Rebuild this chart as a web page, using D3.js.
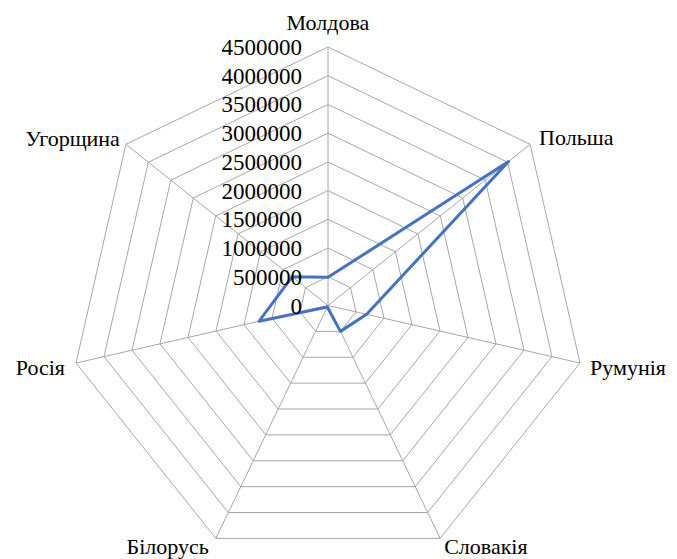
<!DOCTYPE html>
<html><head><meta charset="utf-8">
<script src="https://cdn.jsdelivr.net/npm/d3@7"></script>
<style>body{margin:0;background:#fff}svg{display:block}svg text{font-family:"Liberation Serif","Times New Roman","Tinos","Nimbus Roman","FreeSerif","DejaVu Serif",serif}</style>
</head><body>
<script>
const categories = ["Молдова","Польша","Румунія","Словакія","Білорусь","Росія","Угорщина"];
const values = [490000, 4020000, 690000, 500000, 30000, 1230000, 800000];
const tickValues = [0,500000,1000000,1500000,2000000,2500000,3000000,3500000,4000000,4500000];

const W=677,H=559,cx=328,cy=305.5,R=258.5;
const svg=d3.select("body").append("svg").attr("width",W).attr("height",H);
const r=d3.scaleLinear().domain([0,4500000]).range([0,R]);
const n=categories.length;
const ang=d3.scaleLinear().domain([0,n]).range([0,2*Math.PI]);
const pt=(i,v)=>[cx+r(v)*Math.sin(ang(i)),cy-r(v)*Math.cos(ang(i))];

// rings
tickValues.slice(1).forEach(t=>{
  svg.append("polygon").attr("points",d3.range(n).map(i=>pt(i,t).join(",")).join(" "))
    .attr("fill","none").attr("stroke","#a6a6a6").attr("stroke-width",1);
});
// spokes
d3.range(n).forEach(i=>{
  const p=pt(i,4500000);
  svg.append("line").attr("x1",cx).attr("y1",cy).attr("x2",p[0]).attr("y2",p[1])
    .attr("stroke","#a6a6a6").attr("stroke-width",1);
});
// series
svg.append("polygon").attr("points",values.map((v,i)=>pt(i,v).join(",")).join(" "))
  .attr("fill","none").attr("stroke","#4472C4").attr("stroke-width",3).attr("stroke-linejoin","round");
// tick labels
tickValues.forEach(t=>{
  svg.append("text").attr("x",cx-26).attr("y",cy-r(t)+8)
    .attr("text-anchor","end").attr("font-size",23).attr("fill","#000").text(t);
});
// category labels (baseline offsets from outer vertex)
const lab=[
  {a:"middle",dx:0,dy:-17},
  {a:"start",dx:9,dy:1},
  {a:"start",dx:10,dy:12},
  {a:"start",dx:4,dy:16},
  {a:"end",dx:-7,dy:16},
  {a:"end",dx:-11,dy:12},
  {a:"end",dx:-6,dy:2}
];
categories.forEach((c,i)=>{
  const p=pt(i,4500000);
  svg.append("text").attr("x",p[0]+lab[i].dx).attr("y",p[1]+lab[i].dy)
    .attr("text-anchor",lab[i].a).attr("font-size",22).attr("fill","#000").text(c);
});
</script>
</body></html>
